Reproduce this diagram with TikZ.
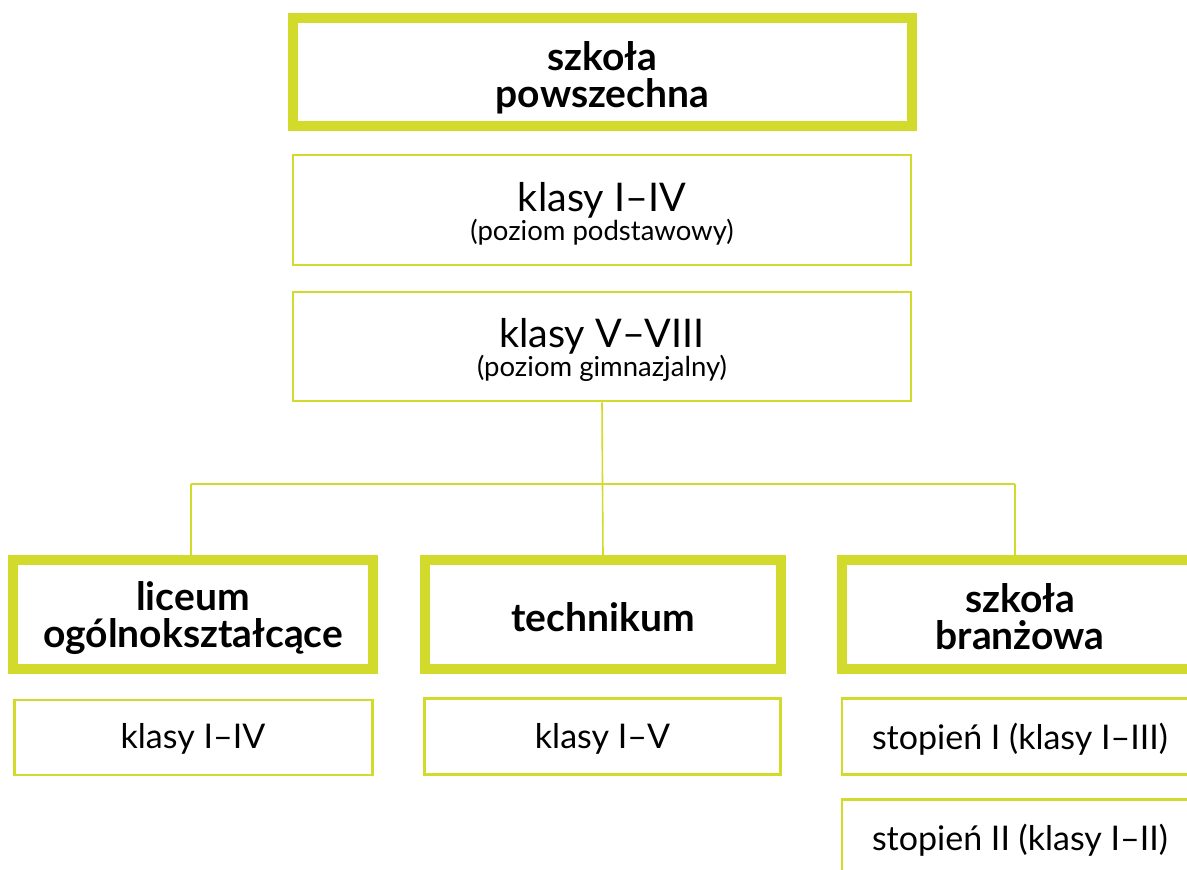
\documentclass[tikz,border=0pt]{standalone}
\usepackage{fontspec}
\setmainfont{Lato}
\definecolor{lime}{RGB}{210,219,44}
\begin{document}
\begin{tikzpicture}[x=1pt,y=-1pt,
  thickbox/.style={draw=lime,line width=10pt,fill=white,rectangle,inner sep=0pt},
  thinbox/.style={draw=lime,line width=2.6pt,fill=white,rectangle,inner sep=0pt},
  headtext/.style={inner sep=0pt,align=center,font=\bfseries\fontsize{39}{37}\selectfont},
  bigtext/.style={inner sep=0pt,align=center},
  smalltext/.style={inner sep=0pt,align=center,font=\fontsize{34}{38}\selectfont},
  link/.style={draw=lime,line width=1.6pt}]
\useasboundingbox (0,0) rectangle (1187,870);
\fill[white] (0,0) rectangle (1187,870);
\coordinate (hl) at (191,484);
\coordinate (hm) at (602.5,484);
\coordinate (hr) at (1015,484);
% boxes
\node[thickbox,minimum width=619pt,minimum height=108pt] (top) at (602.5,72) {};
\node[thinbox,minimum width=618pt,minimum height=110pt] (k14) at (602,210) {};
\node[thinbox,minimum width=618pt,minimum height=109pt] (k58) at (602,346.5) {};
\node[thickbox,minimum width=360pt,minimum height=109pt] (lic) at (193,614.5) {};
\node[thickbox,minimum width=356pt,minimum height=109pt] (tech) at (603,614.5) {};
\node[thickbox,minimum width=356pt,minimum height=109pt] (bran) at (1020,614.5) {};
\node[thinbox,minimum width=358pt,minimum height=75pt] (lk) at (193.5,737.5) {};
\node[thinbox,minimum width=356pt,minimum height=76pt] (tk) at (602.5,736.5) {};
\node[thinbox,minimum width=356pt,minimum height=76pt] (s1) at (1020,736.5) {};
\node[thinbox,minimum width=356pt,minimum height=76pt] (s2) at (1020,837.5) {};
% texts
\node[headtext] (ttop) at (602.5,78) {szkoła\\powszechna};
\node[bigtext] (tk14) at (602,214)
  {\fontsize{39.5}{32}\selectfont klasy I–IV\\\fontsize{27.5}{32}\selectfont(poziom podstawowy)};
\node[bigtext] (tk58) at (602,350)
  {\fontsize{39.5}{32}\selectfont klasy V–VIII\\\fontsize{27.5}{32}\selectfont(poziom gimnazjalny)};
\node[headtext] (tlic) at (193,618) {liceum\\ogólnokształcące};
\node[headtext] (ttech) at (603,617) {technikum};
\node[headtext] (tbran) at (1020,617) {szkoła\\branżowa};
\node[smalltext] (tlk) at (193,739) {klasy I–IV};
\node[smalltext] (ttk) at (602.5,739) {klasy I–V};
\node[smalltext] (ts1) at (1020,739) {stopień I (klasy I–III)};
\node[smalltext] (ts2) at (1020,840) {stopień II (klasy I–II)};
% connectors
\draw[link] (k58.south) -- (hm) -- (tech.north);
\draw[link] (hl) -- (hr);
\draw[link] (hl) -- (lic.north -| hl);
\draw[link] (hr) -- (bran.north -| hr);
\end{tikzpicture}
\end{document}
